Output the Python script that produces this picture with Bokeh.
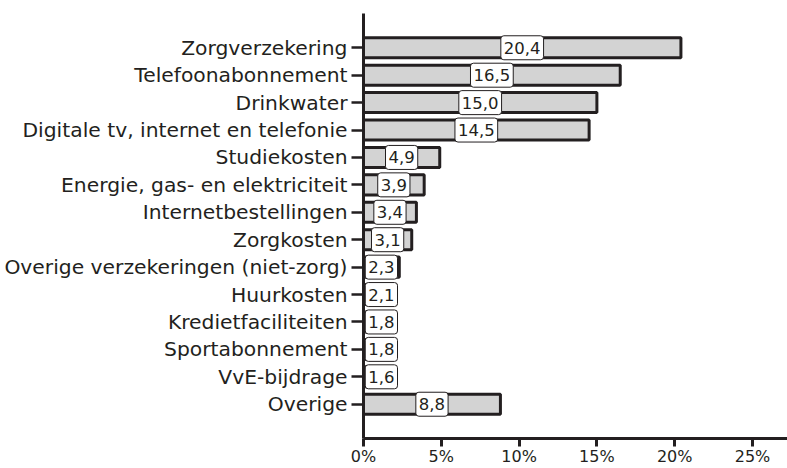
from bokeh.plotting import figure
from bokeh.models import Range1d, FixedTicker, PrintfTickFormatter, ColumnDataSource
from bokeh.core.properties import value
from bokeh.embed import file_html
from bokeh.resources import INLINE

categories = [
    "Zorgverzekering",
    "Telefoonabonnement",
    "Drinkwater",
    "Digitale tv, internet en telefonie",
    "Studiekosten",
    "Energie, gas- en elektriciteit",
    "Internetbestellingen",
    "Zorgkosten",
    "Overige verzekeringen (niet-zorg)",
    "Huurkosten",
    "Kredietfaciliteiten",
    "Sportabonnement",
    "VvE-bijdrage",
    "Overige",
]
values = [20.4, 16.5, 15.0, 14.5, 4.9, 3.9, 3.4, 3.1, 2.3, 2.1, 1.8, 1.8, 1.6, 8.8]
x_ticks = [0, 5, 10, 15, 20, 25]

FONT = "DejaVu Sans"
INK = "#231f20"

ys = list(range(len(categories)))
labels = [f"{v:.1f}".replace(".", ",") for v in values]
label_x = [max(v / 2, 1.15) for v in values]

src = ColumnDataSource(dict(y=ys, v=values, lab=labels, lx=label_x))

n = len(categories)
p = figure(
    width=787, height=468,
    x_range=Range1d(0, 27.25),
    y_range=Range1d(n - 1 + 1.25, -1.25),
    output_backend="svg", toolbar_location=None,
    min_border_left=363, min_border_right=0, min_border_top=13, min_border_bottom=0,
)
p.outline_line_color = None
p.xgrid.grid_line_color = None
p.ygrid.grid_line_color = None
p.background_fill_color = "white"

p.hbar(y="y", left=0, right="v", height=0.73, source=src,
       fill_color="#d3d3d3", line_color=INK, line_width=3)

p.text(x="lx", y="y", text="lab", source=src,
       text_align="center", text_baseline="middle",
       text_font=value(FONT), text_font_size="16.5px", text_color=INK,
       background_fill_color="white", border_line_color=INK,
       border_line_width=1, padding=[3, 3, 6, 6], border_radius=3)

# x axis
xa = p.xaxis[0]
xa.ticker = FixedTicker(ticks=x_ticks)
xa.formatter = PrintfTickFormatter(format="%d%%")
xa.axis_line_color = INK
xa.axis_line_width = 3
xa.major_tick_line_color = INK
xa.major_tick_line_width = 3
xa.major_tick_out = 8
xa.major_tick_in = 0
xa.minor_tick_line_color = None
xa.major_label_standoff = 0
xa.major_label_text_font = FONT
xa.major_label_text_font_size = "16px"
xa.major_label_text_color = INK

# y axis
ya = p.yaxis[0]
ya.ticker = FixedTicker(ticks=ys)
ya.major_label_overrides = {i: c for i, c in zip(ys, categories)}
ya.axis_line_color = INK
ya.axis_line_width = 3
ya.major_tick_line_color = INK
ya.major_tick_line_width = 2.5
ya.major_tick_out = 12
ya.major_tick_in = 0
ya.minor_tick_line_color = None
ya.major_label_standoff = 4
ya.major_label_text_font = FONT
ya.major_label_text_font_size = "20.3px"
ya.major_label_text_color = INK

open("out.html", "w").write(file_html(p, INLINE))
